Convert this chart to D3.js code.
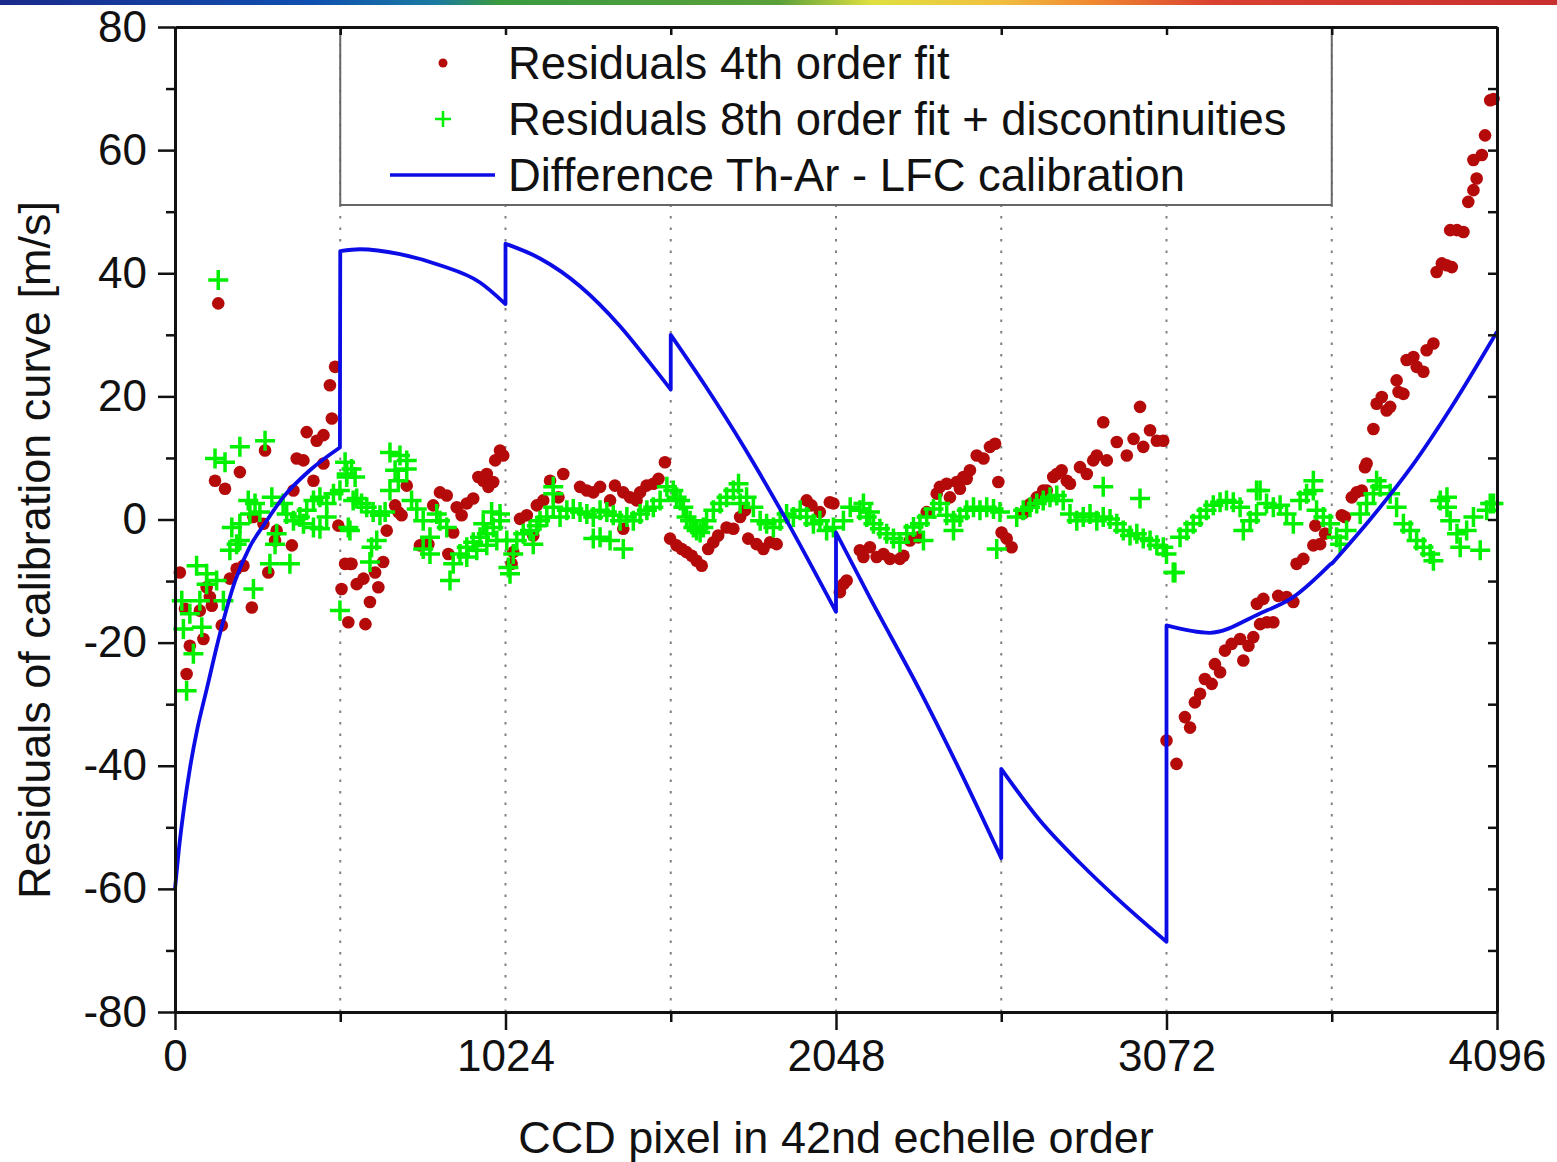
<!DOCTYPE html>
<html>
<head>
<meta charset="utf-8">
<script src="https://cdn.jsdelivr.net/npm/d3@7"></script>
<style>
  body { margin: 0; background: #fff; }
  svg { display: block; font-family: "Liberation Sans", Arial, sans-serif; }
</style>
</head>
<body>
<div id="container"></div>
<script>
/* DATA */
const xTicks = [0, 1024, 2048, 3072, 4096];
const yTicks = [-80, -60, -40, -20, 0, 20, 40, 60, 80];
const yMinor = [-70, -50, -30, -10, 10, 30, 50, 70];
const gridX = [512, 1024, 1536, 2048, 2560, 3072, 3584];

const legendLabels = [
  "Residuals 4th order fit",
  "Residuals 8th order fit + discontinuities",
  "Difference Th-Ar - LFC calibration"
];

// residuals of the 4th order fit [pixel, m/s]
const redResiduals = [
  [15,-8.6],[31,-14.5],[36,-25.1],[46,-20.5],[77,-14.8],[88,-19.4],[98,-11.0],[108,-12.6],[114,-14.0],[124,6.3],
  [134,35.1],[145,-17.2],[155,5.0],[170,-9.6],[191,-8.0],[201,7.7],[212,-7.5],[238,-14.3],[243,0.4],[274,-0.7],
  [279,11.2],[289,-8.6],[310,-3.4],[315,-1.8],[362,-4.2],[367,4.7],[377,9.9],[398,9.6],[408,14.2],[429,6.3],
  [439,12.8],[460,13.7],[460,9.1],[480,21.8],[486,16.4],[496,24.8],[506,-1.0],
  [516,-11.3],[527,-7.2],[537,-16.7],[542,-7.2],[547,-7.2],[563,-10.5],[584,-9.6],[590,-17.0],[604,-13.4],
  [620,-8.6],[630,-11.0],[645,-6.9],[656,-1.8],[682,2.3],[692,1.2],[702,0.7],[718,5.5],[759,-4.2],[785,-4.0],
  [800,2.3],[821,4.4],[842,3.9],[847,-5.6],[862,-2.1],[873,2.0],[888,0.7],[904,2.6],[924,3.4],[940,6.9],
  [955,6.3],[966,7.4],[971,5.3],[986,6.1],[992,9.6],[1007,11.2],[1017,10.4],
  [1043,-7.2],[1048,-5.3],[1069,0.1],[1090,0.7],[1110,-2.6],[1121,2.3],[1141,3.1],[1162,6.3],[1188,3.6],[1203,7.4],
  [1255,5.3],[1276,4.7],[1296,4.4],[1317,5.3],[1348,3.1],[1363,5.5],[1389,4.4],[1389,-1.5],[1410,3.6],[1430,3.1],
  [1441,4.4],[1461,5.5],[1482,5.8],[1498,6.6],[1518,9.3],
  [1534,-3.1],[1554,-4.2],[1570,-4.8],[1585,-5.3],[1601,-5.9],[1616,-6.7],[1632,-7.5],[1652,-4.8],[1668,-3.7],
  [1683,-2.6],[1709,-1.3],[1730,-1.5],[1751,0.4],[1766,1.5],[1776,-3.1],[1802,-4.0],[1823,-4.8],[1844,-3.7],
  [1864,-4.0],[1957,3.1],[1972,2.3],[1998,1.2],[2029,2.8],[2040,2.6],
  [2060,-11.8],[2071,-10.5],[2081,-9.9],[2122,-5.0],[2133,-6.1],[2153,-4.5],[2174,-6.1],[2195,-5.6],[2215,-6.4],
  [2246,-6.4],[2257,-5.9],[2277,-3.4],[2303,-2.9],[2329,1.2],[2360,4.2],[2370,5.3],[2391,5.8],[2401,3.6],[2422,6.1],
  [2432,5.0],[2443,6.9],[2453,6.6],[2463,8.0],[2484,10.4],[2505,9.9],[2525,11.8],[2541,12.3],[2551,6.1],
  [2561,-2.1],[2577,-3.1],[2592,-4.5],[2628,1.0],[2649,2.5],[2670,3.6],[2690,4.7],[2701,4.7],[2721,6.9],[2732,7.4],
  [2747,8.0],[2763,6.3],[2773,5.8],[2804,8.5],[2825,7.4],[2845,9.6],[2856,10.4],[2876,15.8],[2887,9.6],[2918,12.6],
  [2949,10.4],[2970,13.1],[2990,18.3],[3000,11.8],[3021,14.5],[3042,12.8],[3062,12.8],
  [3072,-35.9],[3103,-39.7],[3129,-32.1],[3145,-33.8],[3160,-29.7],[3176,-28.3],[3191,-25.9],[3212,-26.7],
  [3222,-23.5],[3238,-24.8],[3253,-21.3],[3274,-20.2],[3300,-19.4],[3310,-22.9],[3326,-20.5],[3341,-19.1],
  [3352,-13.7],[3362,-17.0],[3372,-12.9],[3383,-16.7],[3403,-16.7],[3418,-12.4],[3444,-12.6],[3465,-13.4],
  [3475,-7.2],[3496,-6.4],[3527,-4.2],[3533,-1.0],[3548,-4.0],[3563,-2.3],
  [3615,0.7],[3625,0.4],[3646,3.6],[3661,4.4],[3677,4.7],[3687,8.5],[3692,9.1],[3713,14.7],[3723,18.8],[3739,19.9],
  [3754,17.7],[3765,18.3],[3785,22.6],[3791,20.7],[3806,20.4],[3816,25.9],[3837,26.4],[3847,24.8],[3868,24.0],
  [3878,27.5],[3899,28.6],[3909,40.2],[3925,41.6],[3940,41.3],[3956,41.0],[3951,47.0],[3972,47.0],[3992,46.7],
  [4007,51.6],[4023,53.5],[4033,55.4],[4023,58.4],[4049,59.2],[4059,62.4],[4075,68.1],[4085,68.3]
];

// residuals of the 8th order fit + discontinuities [pixel, m/s]
const greenResiduals = [
  [21,-13.2],[26,-17.8],[36,-27.8],[46,-15.3],[57,-21.8],[67,-7.5],[77,-13.2],[83,-17.5],[98,-8.8],[98,-10.5],
  [124,9.9],[129,-9.9],[134,38.9],[150,-13.2],[155,9.3],[170,-5.0],[176,-1.3],[191,-4.0],[201,11.8],[201,-0.7],
  [201,-3.4],[227,3.1],[232,0.9],[243,-11.3],[248,2.6],[263,1.2],[279,12.8],[294,-7.2],[300,3.6],[310,-4.0],
  [315,-2.3],[335,2.6],[346,0.9],[356,-7.2],[367,-0.2],[387,0.4],[398,-0.7],[408,1.5],[429,3.1],[429,-1.3],
  [449,3.6],[449,-1.5],[470,2.6],[470,0.4],[491,4.2],[511,4.7],[511,-14.8],
  [527,9.3],[532,7.4],[532,6.9],[537,-1.3],[542,-1.8],[547,8.2],[552,3.1],[558,6.9],[563,3.4],[578,2.6],
  [594,2.0],[604,-6.9],[609,-4.5],[614,1.2],[625,-3.4],[635,0.7],[651,1.2],[666,10.9],[666,4.7],[682,8.0],
  [692,6.3],[697,10.4],[718,9.6],[718,8.2],[733,3.1],[749,1.7],[769,-0.2],[769,-4.8],[790,-2.9],[790,-5.6],
  [811,0.9],[821,-0.2],[842,-1.3],[852,-9.9],[862,-7.2],[883,-5.6],[904,-4.5],[904,-6.1],[924,-3.7],[935,-5.0],
  [945,-2.9],[955,-0.7],[966,-2.3],[966,-4.2],[981,1.2],[986,-1.3],[997,-3.4],[1007,-0.2],[1007,0.9],
  [1028,-3.4],[1033,-7.8],[1038,-8.8],[1048,-5.6],[1059,-3.4],[1079,-2.3],[1100,-1.8],[1110,-4.0],[1121,-1.0],
  [1131,-0.2],[1152,0.4],[1172,2.0],[1172,4.2],[1172,5.3],[1193,0.4],[1214,1.5],[1234,1.7],[1255,1.2],[1276,0.9],
  [1296,0.4],[1296,-3.1],[1317,1.5],[1317,-2.9],[1338,1.2],[1348,-3.4],[1358,0.7],[1379,-0.2],[1389,-4.8],
  [1400,0.4],[1420,-0.2],[1441,0.9],[1462,1.5],[1482,2.0],[1503,3.1],[1524,5.3],
  [1544,4.7],[1554,3.6],[1565,3.1],[1575,2.0],[1585,0.4],[1596,-0.2],[1606,-1.3],[1616,-1.8],[1627,-2.1],
  [1637,-1.3],[1647,-0.2],[1668,1.5],[1689,2.6],[1709,3.6],[1730,4.7],[1746,5.8],[1751,2.6],[1771,3.6],[1792,2.0],
  [1813,-0.2],[1833,-0.7],[1854,-1.3],[1875,-0.2],[1895,0.9],[1916,0.4],[1937,1.5],[1957,0.4],[1978,-0.7],
  [1998,-0.2],[2019,-1.8],[2040,-1.3],
  [2071,-0.2],[2092,2.0],[2122,1.5],[2133,2.6],[2143,0.4],[2153,1.2],[2164,-0.7],[2184,-1.5],[2205,-2.3],
  [2226,-3.1],[2246,-3.7],[2267,-2.3],[2288,-1.2],[2308,-0.7],[2319,-3.4],[2329,0.4],[2350,1.7],[2370,2.6],
  [2391,0.7],[2412,-0.2],[2412,-1.8],[2432,0.4],[2453,1.5],[2474,2.0],[2494,1.5],[2515,2.0],[2536,1.7],
  [2546,-4.8],[2556,1.2],
  [2608,0.4],[2628,1.5],[2649,2.0],[2670,2.6],[2690,3.1],[2711,3.6],[2732,3.9],[2752,3.1],[2773,0.9],[2794,-0.2],
  [2814,0.4],[2835,0.9],[2856,-0.2],[2876,0.4],[2876,5.3],[2897,0.1],[2918,-0.7],[2938,-1.8],[2959,-2.6],
  [2980,-2.3],[2990,3.4],[3000,-3.1],[3021,-3.4],[3042,-4.2],[3062,-4.5],[3072,-5.6],[3093,-8.6],
  [3098,-8.6],[3114,-2.9],[3135,-1.8],[3155,-0.7],[3176,0.4],[3196,1.5],[3217,2.3],[3238,2.8],[3258,3.1],
  [3279,2.8],[3300,2.0],[3310,-1.8],[3331,-0.2],[3351,0.9],[3351,4.7],[3362,4.7],[3382,2.6],[3403,2.0],
  [3424,2.3],[3444,0.9],[3465,-0.7],[3486,3.1],[3506,4.2],[3527,4.7],[3527,6.3],[3537,1.5],[3558,0.4],
  [3579,-0.7],[3599,-2.9],[3610,-4.0],[3630,-1.8],
  [3672,0.9],[3692,2.6],[3713,4.2],[3723,6.3],[3734,5.3],[3765,4.2],[3785,2.0],[3806,-0.7],[3827,-1.8],
  [3847,-3.4],[3868,-4.5],[3889,-5.6],[3899,-6.7],[3920,3.1],[3941,2.0],[3941,3.6],[3951,-0.2],[3972,-2.3],
  [3982,-4.5],[4002,-1.8],[4023,0.4],[4044,-5.0],[4064,1.5],[4075,2.6],[4085,2.6]
];

// difference Th-Ar - LFC calibration, one piece per 512 pixel block
const blueDiffSegments = [
  [[0,-60],[12,-53.6],[28,-46.8],[46,-40.5],[68,-34.3],[99,-27.4],[139,-18.6],[186,-10],[232,-4.4],[279,-0.6],
   [335,3.6],[418,8],[511,11.7]],
  [[512,43.6],[573,43.9],[697,43.1],[821,41.3],[945,38.5],[1024,35]],
  [[1024,44.8],[1131,42.4],[1255,37.9],[1379,31.4],[1472,25.4],[1536,21.1]],
  [[1536,30],[1642,21.8],[1766,11.5],[1890,0.3],[2048,-15]],
  [[2048,-2.1],[2153,-12.7],[2308,-27.8],[2432,-40.8],[2560,-55]],
  [[2560,-40.5],[2680,-48.9],[2804,-55.8],[2928,-62],[3072,-68.6]],
  [[3072,-17.2],[3205,-18.4],[3360,-15.3],[3462,-12.7],[3581,-7.2]],
  [[3584,-7.2],[3706,0.2],[3830,8.5],[3954,18.2],[4096,30.5]]
];

/* LAYOUT */
const width = 1557, height = 1162;
const plot = {left: 175, right: 1497, top: 27, bottom: 1012};
const redColor = "#b50a0a", greenColor = "#00f000", blueColor = "#0c0ce6";

const svg = d3.select("#container").append("svg")
  .attr("width", width)
  .attr("height", height);

svg.append("rect").attr("width", width).attr("height", height).attr("fill", "#fff");

// rainbow strip along the top edge
const grad = svg.append("defs").append("linearGradient").attr("id", "strip");
[["0%", "#1a2a8a"], ["20%", "#1050b0"], ["28%", "#1a7aa0"], ["32%", "#3a9a40"], ["50%", "#5aa03a"],
 ["56%", "#e0e040"], ["64%", "#f0c040"], ["70%", "#f08a30"], ["78%", "#d84030"], ["100%", "#c83030"]]
  .forEach(s => grad.append("stop").attr("offset", s[0]).attr("stop-color", s[1]));
svg.append("rect").attr("x", 0).attr("y", 0).attr("width", width).attr("height", 5).attr("fill", "url(#strip)");

/* SCALES */
const xScale = d3.scaleLinear().domain([0, 4096]).range([plot.left, plot.right]);
const yScale = d3.scaleLinear().domain([-80, 80]).range([plot.bottom, plot.top]);

// dotted block boundaries
svg.selectAll(".grid")
  .data(gridX)
  .join("line")
  .attr("class", "grid")
  .attr("x1", d => xScale(d)).attr("x2", d => xScale(d))
  .attr("y1", plot.bottom).attr("y2", plot.top)
  .attr("stroke", "#808080")
  .attr("stroke-width", 2)
  .attr("stroke-dasharray", "2.5,9");

// red dots
svg.selectAll(".red")
  .data(redResiduals)
  .join("circle")
  .attr("class", "red")
  .attr("cx", d => xScale(d[0]))
  .attr("cy", d => yScale(d[1]))
  .attr("r", 6.3)
  .attr("fill", redColor);

// green crosses
const cross = 10;
svg.selectAll(".green")
  .data(greenResiduals)
  .join("path")
  .attr("class", "green")
  .attr("d", d => {
    const cx = xScale(d[0]), cy = yScale(d[1]);
    return `M${cx - cross},${cy}H${cx + cross}M${cx},${cy - cross}V${cy + cross}`;
  })
  .attr("stroke", greenColor)
  .attr("stroke-width", 3.5)
  .attr("fill", "none");

// blue difference curve, pieces joined by vertical jumps
const lineGen = d3.line()
  .x(d => xScale(d[0]))
  .y(d => yScale(d[1]))
  .curve(d3.curveMonotoneX);
const bluePath = blueDiffSegments.map(s => lineGen(s)).join("").replace(/M/g, "L").replace(/^L/, "M");
svg.append("path")
  .attr("d", bluePath)
  .attr("fill", "none")
  .attr("stroke", blueColor)
  .attr("stroke-width", 3.8)
  .attr("stroke-linejoin", "round");

/* LEGEND */
const legend = svg.append("g");
legend.append("rect")
  .attr("x", xScale(512)).attr("y", plot.top + 1)
  .attr("width", xScale(3584) - xScale(512)).attr("height", 177)
  .attr("fill", "#fff")
  .attr("stroke", "#666")
  .attr("stroke-width", 2);
const rowY = [63, 119, 175];
legend.append("circle").attr("cx", 443).attr("cy", rowY[0]).attr("r", 4.5).attr("fill", redColor);
legend.append("path")
  .attr("d", `M435,${rowY[1]}H451M443,${rowY[1] - 8}V${rowY[1] + 8}`)
  .attr("stroke", greenColor).attr("stroke-width", 2.5);
legend.append("line")
  .attr("x1", 390).attr("x2", 495).attr("y1", rowY[2]).attr("y2", rowY[2])
  .attr("stroke", blueColor).attr("stroke-width", 3.5);
legend.selectAll("text")
  .data(legendLabels)
  .join("text")
  .attr("x", 508)
  .attr("y", (d, i) => rowY[i])
  .attr("dy", "0.36em")
  .attr("font-size", 45.4)
  .attr("fill", "#111")
  .text(d => d);

/* AXES */
const plain = d => String(d);
function styleAxis(g) {
  g.select(".domain").attr("stroke", "#111").attr("stroke-width", 3);
  g.selectAll(".tick line").attr("stroke", "#111").attr("stroke-width", 2.5);
  g.selectAll(".tick text").attr("fill", "#111").attr("font-size", 44).attr("font-family", "Liberation Sans, Arial, sans-serif");
}

svg.append("g")
  .attr("transform", `translate(${plot.left},0)`)
  .call(d3.axisLeft(yScale).tickValues(yTicks).tickSize(17).tickSizeOuter(0).tickPadding(11).tickFormat(plain))
  .call(styleAxis);
svg.append("g")
  .attr("transform", `translate(${plot.left},0)`)
  .call(d3.axisLeft(yScale).tickValues(yMinor).tickSize(9).tickSizeOuter(0).tickFormat(""))
  .call(styleAxis);
svg.append("g")
  .attr("transform", `translate(${plot.right},0)`)
  .call(d3.axisLeft(yScale).tickValues(yTicks.concat(yMinor)).tickSize(9).tickSizeOuter(0).tickFormat(""))
  .call(styleAxis);

svg.append("g")
  .attr("transform", `translate(0,${plot.bottom})`)
  .call(d3.axisBottom(xScale).tickValues(xTicks).tickSize(18).tickSizeOuter(0).tickPadding(10).tickFormat(plain))
  .call(styleAxis);
svg.append("g")
  .attr("transform", `translate(0,${plot.bottom})`)
  .call(d3.axisBottom(xScale).tickValues([512, 1536, 2560, 3584]).tickSize(10).tickSizeOuter(0).tickFormat(""))
  .call(styleAxis);
svg.append("g")
  .attr("transform", `translate(0,${plot.top})`)
  .call(d3.axisBottom(xScale).tickValues(xTicks.concat([512, 1536, 2560, 3584])).tickSize(8).tickSizeOuter(0).tickFormat(""))
  .call(styleAxis);

// axis titles
svg.append("text")
  .attr("x", (plot.left + plot.right) / 2)
  .attr("y", 1153)
  .attr("text-anchor", "middle")
  .attr("font-size", 45)
  .attr("fill", "#111")
  .text("CCD pixel in 42nd echelle order");

svg.append("text")
  .attr("transform", "rotate(-90)")
  .attr("x", -550)
  .attr("y", 50)
  .attr("text-anchor", "middle")
  .attr("font-size", 45)
  .attr("fill", "#111")
  .text("Residuals of calibration curve [m/s]");
</script>
</body>
</html>
